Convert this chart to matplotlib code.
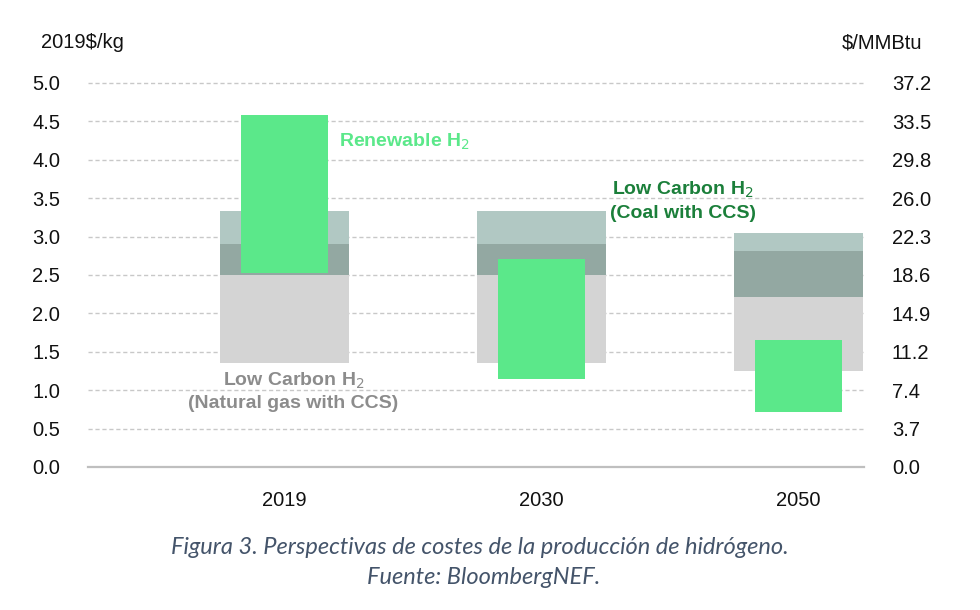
import matplotlib
matplotlib.use("Agg")
import matplotlib.pyplot as plt

# ---- data ----
years = ["2019", "2030", "2050"]
ng_low = [1.35, 1.35, 1.25]        # natural gas CCS range low
coal_low = [2.50, 2.50, 2.22]      # coal CCS range low
ng_high = [2.91, 2.91, 2.81]       # natural gas CCS range high
coal_high = [3.33, 3.33, 3.05]     # coal CCS range high
ren_low = [2.53, 1.15, 0.72]       # renewable range low
ren_high = [4.58, 2.71, 1.65]      # renewable range high
left_ticks = [0.0, 0.5, 1.0, 1.5, 2.0, 2.5, 3.0, 3.5, 4.0, 4.5, 5.0]
right_labels = ["0.0", "3.7", "7.4", "11.2", "14.9", "18.6", "22.3",
                "26.0", "29.8", "33.5", "37.2"]

plt.rcParams['font.family'] = ['Liberation Sans', 'DejaVu Sans']

fig = plt.figure(figsize=(9.8, 6.1), dpi=100)
ax = fig.add_axes([88/980, (610-467)/610, (864-88)/980, (467-83)/610])

x = list(range(len(years)))
gray = "#D4D4D4"
dark = "#93A8A2"
light = "#B1C8C3"
green = "#5BE88A"

box_w = 0.5
ren_w = 0.337
for i in x:
    ax.bar(i, coal_low[i] - ng_low[i], bottom=ng_low[i], width=box_w, color=gray, zorder=2)
    ax.bar(i, ng_high[i] - coal_low[i], bottom=coal_low[i], width=box_w, color=dark, zorder=2)
    ax.bar(i, coal_high[i] - ng_high[i], bottom=ng_high[i], width=box_w, color=light, zorder=2)
    ax.bar(i, ren_high[i] - ren_low[i], bottom=ren_low[i], width=ren_w, color=green, zorder=3)

ax.set_xlim(-0.765, 2.255)
ax.set_ylim(0, 5.0)
ax.set_yticks(left_ticks)
ax.set_yticklabels([f"{v:.1f}" for v in left_ticks])
ax.set_xticks(x)
ax.set_xticklabels(years)

for v in left_ticks[1:]:
    ax.axhline(v, color="#C8C8C8", linestyle=(0, (3, 2)), linewidth=1.0, zorder=1, clip_on=False)
ax.axhline(0, color="#BFBFBF", linewidth=1.6, zorder=4, clip_on=False)

for s in ax.spines.values():
    s.set_visible(False)
ax.tick_params(axis="y", length=0, pad=20, labelsize=14.5, colors="#111111")
ax.tick_params(axis="x", length=0, pad=17, labelsize=14.5, colors="#111111")

ax2 = ax.twinx()
ax2.set_ylim(0, 5.0)
ax2.set_yticks(left_ticks)
ax2.set_yticklabels(right_labels)
for s in ax2.spines.values():
    s.set_visible(False)
ax2.tick_params(axis="y", length=0, pad=20, labelsize=14.5, colors="#111111")

fig.text(41/980, 1 - 43/610, "2019$/kg", fontsize=14.5, color="#111111", ha="left", va="center")
fig.text(922/980, 1 - 43/610, "$/MMBtu", fontsize=14.5, color="#111111", ha="right", va="center")

ax.text(0.21, 4.24, "Renewable H$_2$", color="#5BE88A", fontsize=14, fontweight="bold",
        ha="left", va="center")
ax.text(1.55, 3.47, "Low Carbon H$_2$\n(Coal with CCS)", color="#1B7F3A", fontsize=14,
        fontweight="bold", ha="center", va="center", linespacing=1.4)
ax.text(0.035, 0.99, "Low Carbon H$_2$\n(Natural gas with CCS)", color="#8C8C8C", fontsize=14,
        fontweight="bold", ha="center", va="center", linespacing=1.3)

cap_font = ['Lato', 'DejaVu Sans']
fig.text(480/980, 1 - 548/610, "Figura 3. Perspectivas de costes de la producción de hidrógeno.",
         family=cap_font, style="italic", fontsize=17, color="#44546A", ha="center", va="center")
fig.text(484/980, 1 - 578/610, "Fuente: BloombergNEF.",
         family=cap_font, style="italic", fontsize=17, color="#44546A", ha="center", va="center")

fig.savefig("out.png", dpi=100)
